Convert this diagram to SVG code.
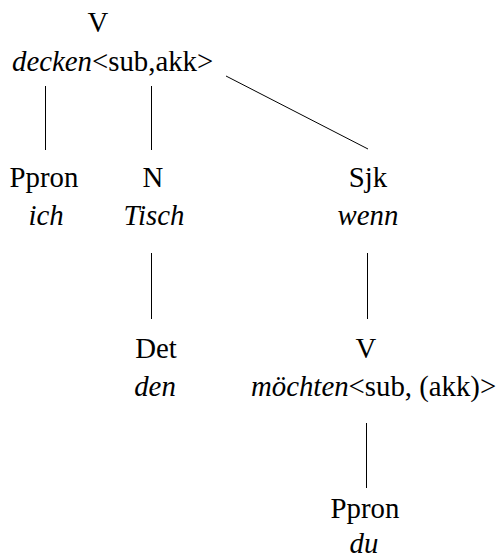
<svg xmlns="http://www.w3.org/2000/svg" width="499" height="558" viewBox="0 0 499 558" font-family="'Liberation Serif', Tinos, 'Times New Roman', Times, serif">
  <style>
    text { font-family: 'Liberation Serif', Tinos, 'Times New Roman', Times, serif; font-size: 28.8px; fill: #000; }
    .c { text-anchor: middle; }
    .it { font-style: italic; }
    .edge { stroke: #000; stroke-width: 1; fill: none; }
  </style>
  <rect width="499" height="558" fill="#fff"/>

  <!-- tree edges -->
  <g id="connectors">
    <line class="edge" x1="45.5" y1="86" x2="45.5" y2="150"/>
    <line class="edge" x1="151.5" y1="86" x2="151.5" y2="150"/>
    <line class="edge" x1="226" y1="76" x2="368" y2="149"/>
    <line class="edge" x1="151.5" y1="253" x2="151.5" y2="319"/>
    <line class="edge" x1="367.5" y1="253" x2="367.5" y2="319"/>
    <line class="edge" x1="366.5" y1="423" x2="366.5" y2="488"/>
  </g>

  <g id="node-decken">
    <text class="c" x="98" y="32">V</text>
    <text x="12" y="71"><tspan class="it">decken</tspan>&lt;sub,akk&gt;</text>
  </g>

  <g id="node-ich">
    <text class="c" x="44" y="187">Ppron</text>
    <text class="c it" x="46" y="225">ich</text>
  </g>

  <g id="node-tisch">
    <text class="c" x="153" y="187">N</text>
    <text class="c it" x="154" y="225">Tisch</text>
  </g>

  <g id="node-wenn">
    <text class="c" x="368" y="187">Sjk</text>
    <text class="c it" x="368" y="225">wenn</text>
  </g>

  <g id="node-den">
    <text class="c" x="156" y="358">Det</text>
    <text class="c it" x="155" y="396">den</text>
  </g>

  <g id="node-moechten">
    <text class="c" x="366" y="358">V</text>
    <text x="251" y="396"><tspan class="it">möchten</tspan>&lt;sub, (akk)&gt;</text>
  </g>

  <g id="node-du">
    <text class="c" x="365" y="518">Ppron</text>
    <text class="c it" x="364" y="553">du</text>
  </g>
</svg>
